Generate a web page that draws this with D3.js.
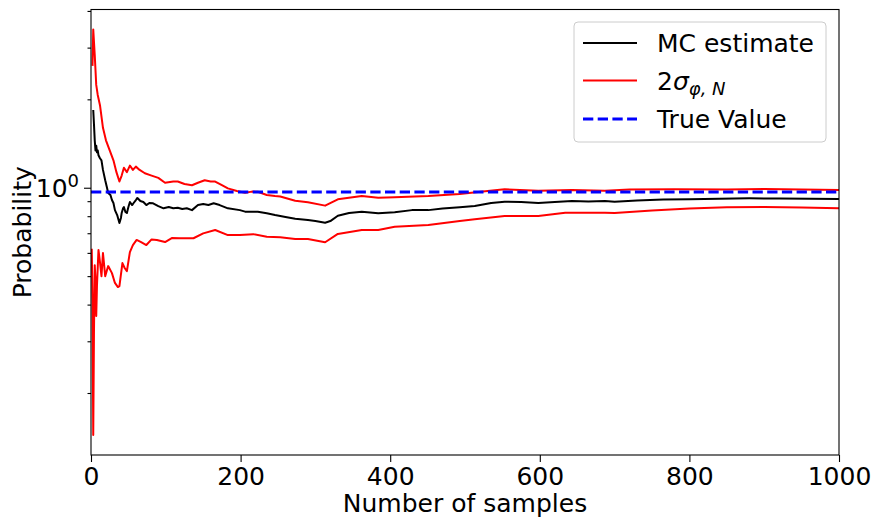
<!DOCTYPE html>
<html>
<head>
<meta charset="utf-8">
<script src="https://cdn.jsdelivr.net/npm/d3@7"></script>
<style>
body { margin: 0; background: #fff; }
text { font-family: "DejaVu Sans", sans-serif; }
</style>
</head>
<body>
<div id="chart"></div>
<script>
// values
var samplesMC = [3,4,5,6,7,8,9,10,12,14,16,19,21,23,26,28,30,32,35,38,40,41,43,44,46,48,50,52,55,57,60,62,66,70,74,78,83,90,97,104,110,116,122,128,135,143,150,157,164,172,183,199,206,217,223,235,246,260,273,290,300,313,320,330,345,362,384,406,429,451,470,493,513,535,553,575,598,620,643,665,687,700,730,765,800,840,880,920,960,1000];
var valuesMC = [1.84,1.64,1.45,1.34,1.39,1.32,1.34,1.29,1.26,1.24,1.15,1.06,1.01,0.96,0.944,0.908,0.887,0.839,0.807,0.758,0.789,0.82,0.853,0.86,0.827,0.82,0.86,0.894,0.873,0.887,0.908,0.923,0.901,0.894,0.873,0.887,0.885,0.866,0.851,0.86,0.851,0.855,0.846,0.851,0.839,0.873,0.88,0.873,0.885,0.873,0.851,0.839,0.829,0.829,0.829,0.818,0.807,0.795,0.784,0.776,0.77,0.76,0.77,0.803,0.82,0.829,0.818,0.825,0.839,0.839,0.85,0.858,0.866,0.887,0.896,0.894,0.887,0.894,0.901,0.898,0.901,0.896,0.905,0.912,0.913,0.917,0.92,0.919,0.917,0.915];

var samplesUpper = [2,3,5,7,9,12,16,20,25,30,34,38,41,44,48,52,56,60,65,72,81,90,99,110,116,125,135,143,152,160,166,175,183,195,206,215,223,235,246,253,273,290,313,330,362,384,406,451,493,527,553,598,643,687,720,780,850,900,950,1000];
var valuesUpper = [2.6,3.46,2.83,2.24,2.07,1.91,1.6,1.45,1.34,1.24,1.13,1.05,1.1,1.17,1.13,1.19,1.15,1.18,1.15,1.12,1.1,1.08,1.04,1.05,1.05,1.03,1.02,1.04,1.06,1.05,1.05,1.02,0.995,0.975,0.962,0.97,0.969,0.945,0.937,0.933,0.903,0.892,0.869,0.913,0.937,0.925,0.928,0.937,0.952,0.972,0.988,0.977,0.982,0.977,0.986,0.988,0.986,0.99,0.986,0.982];

var samplesLower = [1,2,3,4,5,6,7,8,10,12,14,16,19,23,28,32,36,38,42,45,48,52,56,61,67,74,81,88,99,108,119,137,150,166,183,199,217,235,253,273,290,313,330,362,384,406,451,493,513,553,598,634,687,700,750,800,850,900,950,1000];
var valuesLower = [0.62,0.415,0.144,0.328,0.545,0.485,0.366,0.466,0.614,0.558,0.5,0.599,0.5,0.541,0.512,0.474,0.459,0.462,0.554,0.533,0.52,0.604,0.638,0.664,0.653,0.638,0.667,0.664,0.653,0.674,0.673,0.673,0.699,0.718,0.69,0.69,0.695,0.681,0.678,0.669,0.669,0.652,0.696,0.718,0.718,0.737,0.746,0.77,0.781,0.801,0.801,0.822,0.822,0.82,0.836,0.85,0.858,0.86,0.856,0.851];

var trueValue = 0.967;

var xTicks = [0, 200, 400, 600, 800, 1000];
var yMajorTicks = [1];
var yMinorTicks = [0.2, 0.3, 0.4, 0.5, 0.6, 0.7, 0.8, 0.9, 2, 3, 4];

var width = 872, height = 522;
var margin = {left: 91, right: 33, top: 9.5, bottom: 67};
var fontSize = 25;

var svg = d3.select("#chart")
	.append("svg")
	.attr("width", width)
	.attr("height", height);

var x = d3.scaleLinear()
	.domain([0, 1000])
	.range([margin.left, width - margin.right]);

var y = d3.scaleLog()
	.domain([0.123, 4.045])
	.range([height - margin.bottom, margin.top]);

svg.append("clipPath")
	.attr("id", "plotClip")
	.append("rect")
		.attr("x", margin.left)
		.attr("y", margin.top)
		.attr("width", width - margin.left - margin.right)
		.attr("height", height - margin.top - margin.bottom);

var line = d3.line()
	.x(function(d) { return x(d[0]); })
	.y(function(d) { return y(d[1]); });

var plot = svg.append("g").attr("clip-path", "url(#plotClip)");

function pairs(xs, ys) {
	return xs.map(function(v, i) { return [v, ys[i]]; });
}

plot.append("path")
	.datum(pairs(samplesMC, valuesMC))
	.attr("d", line)
	.attr("fill", "none")
	.attr("stroke", "black")
	.attr("stroke-width", 2)
	.attr("stroke-linejoin", "round");

plot.append("path")
	.datum(pairs(samplesUpper, valuesUpper))
	.attr("d", line)
	.attr("fill", "none")
	.attr("stroke", "red")
	.attr("stroke-width", 2)
	.attr("stroke-linejoin", "round");

plot.append("path")
	.datum(pairs(samplesLower, valuesLower))
	.attr("d", line)
	.attr("fill", "none")
	.attr("stroke", "red")
	.attr("stroke-width", 2)
	.attr("stroke-linejoin", "round");

plot.append("line")
	.attr("x1", x(0))
	.attr("x2", x(1000))
	.attr("y1", y(trueValue))
	.attr("y2", y(trueValue))
	.attr("stroke", "blue")
	.attr("stroke-width", 2.8)
	.attr("stroke-dasharray", "10.3,4.4");

// axes
var xAxis = svg.append("g")
	.attr("transform", "translate(0," + (height - margin.bottom) + ")")
	.call(d3.axisBottom(x).tickValues(xTicks).tickSize(7).tickPadding(5).tickFormat(d3.format("d")));

xAxis.selectAll("text").style("font-size", fontSize + "px").attr("fill", "black");

var yMinor = svg.append("g")
	.attr("transform", "translate(" + margin.left + ",0)")
	.call(d3.axisLeft(y).tickValues(yMinorTicks).tickSize(3.5).tickFormat(""));

var yMajor = svg.append("g")
	.attr("transform", "translate(" + margin.left + ",0)")
	.call(d3.axisLeft(y).tickValues(yMajorTicks).tickSize(7).tickFormat(""));

svg.selectAll(".domain").remove();
svg.selectAll(".tick line").attr("stroke", "black").attr("stroke-width", 1.1);

var majorLabel = svg.append("text")
	.attr("x", margin.left - 12)
	.attr("y", y(1) + 9)
	.attr("text-anchor", "end")
	.style("font-size", fontSize + "px");
majorLabel.append("tspan").text("10");
majorLabel.append("tspan").attr("dy", -10).style("font-size", "18px").text("0");

// frame
svg.append("rect")
	.attr("x", margin.left)
	.attr("y", margin.top)
	.attr("width", width - margin.left - margin.right)
	.attr("height", height - margin.top - margin.bottom)
	.attr("fill", "none")
	.attr("stroke", "black")
	.attr("stroke-width", 1.1);

// axis titles
svg.append("text")
	.attr("x", (margin.left + width - margin.right) / 2)
	.attr("y", 512)
	.attr("text-anchor", "middle")
	.style("font-size", fontSize + "px")
	.text("Number of samples");

svg.append("text")
	.attr("transform", "translate(31," + ((height - margin.bottom + margin.top) / 2) + ") rotate(-90)")
	.attr("text-anchor", "middle")
	.style("font-size", fontSize + "px")
	.text("Probability");

// legend
var legend = svg.append("g");
legend.append("rect")
	.attr("x", 574)
	.attr("y", 22)
	.attr("width", 252)
	.attr("height", 120)
	.attr("rx", 4)
	.attr("fill", "white")
	.attr("fill-opacity", 0.8)
	.attr("stroke", "#cccccc");

var legendRows = [
	{y: 43, color: "black", dash: null, w: 2},
	{y: 80.5, color: "red", dash: null, w: 2},
	{y: 119, color: "blue", dash: "10.3,4.4", w: 2.8}
];
legendRows.forEach(function(r) {
	legend.append("line")
		.attr("x1", 583).attr("x2", 637)
		.attr("y1", r.y).attr("y2", r.y)
		.attr("stroke", r.color)
		.attr("stroke-width", r.w)
		.attr("stroke-dasharray", r.dash);
});

legend.append("text")
	.attr("x", 657).attr("y", 43 + 9)
	.style("font-size", fontSize + "px")
	.text("MC estimate");

var sigma = legend.append("text")
	.attr("x", 657).attr("y", 80.5 + 9)
	.style("font-size", fontSize + "px");
sigma.append("tspan").text("2");
sigma.append("tspan").style("font-style", "italic").text("σ");
sigma.append("tspan").attr("dy", 5).style("font-size", "18px").style("font-style", "italic").text("φ, N");

legend.append("text")
	.attr("x", 657).attr("y", 119 + 9)
	.style("font-size", fontSize + "px")
	.text("True Value");
</script>
</body>
</html>
